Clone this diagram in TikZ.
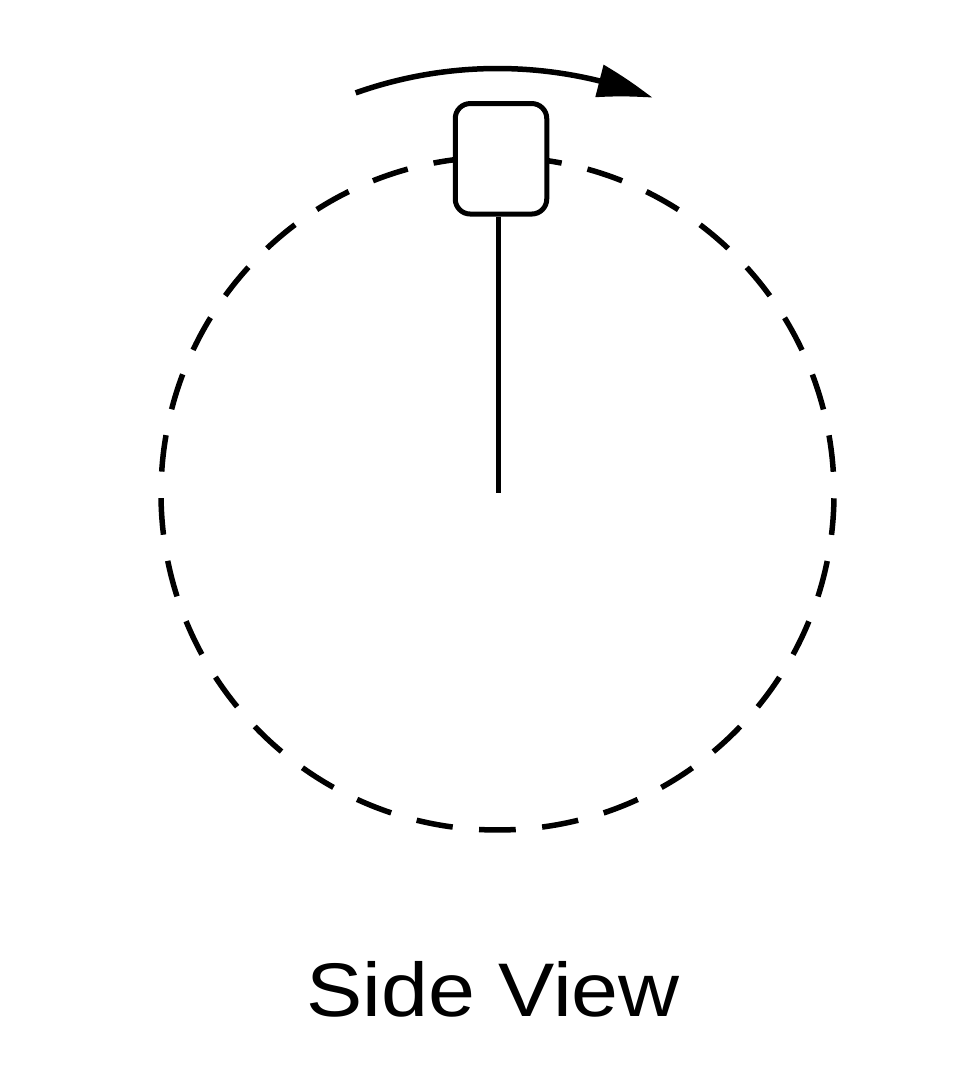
\documentclass[tikz,border=0pt]{standalone}
\usepackage{fontspec}
\setmainfont{Liberation Sans}
\usetikzlibrary{arrows.meta,bending}
\begin{document}
\begin{tikzpicture}[x=1pt,y=1pt,
  ring/.style={line width=5.5pt, dash pattern=on 36.7pt off 26.5pt, dash phase=35.55pt},
  pod/.style={draw, line width=5pt, rounded corners=15pt, fill=white, minimum width=91.5pt, minimum height=110.5pt, inner sep=0pt},
  spoke/.style={line width=5pt},
  motion/.style={line width=5.5pt, -{Triangle[length=56pt,width=32pt,bend]}},
  caption/.style={font=\fontsize{76}{80}\selectfont, inner sep=0pt, anchor=base}]
\useasboundingbox (0,0) rectangle (972,1070);
\coordinate (hub) at (497.5,576.5);
\draw[ring] (hub) ++(90:336.5) arc[start angle=90, end angle=450, radius=336.5];
\draw[motion] (hub) ++(109.5:425) arc[start angle=109.5, end angle=68.6, radius=425];
\node[pod] (box) at (501,911.2) {};
\coordinate (axle) at (498.5,577);
\draw[spoke] (box.south -| axle) -- (axle);
\node[caption] (label) at (493,53) {\scalebox{1.11}[1]{Side View}};
\end{tikzpicture}
\end{document}
